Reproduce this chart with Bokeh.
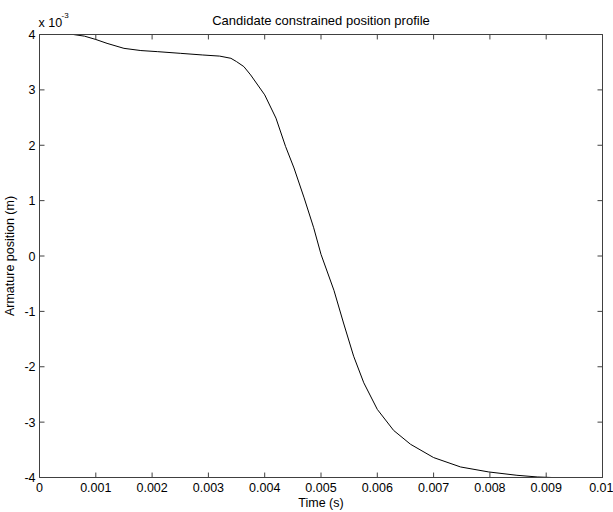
from bokeh.plotting import figure
from bokeh.models import LinearAxis, FixedTicker, CustomJSTickFormatter, Range1d, Label
from bokeh.embed import file_html
from bokeh.resources import INLINE

# Data (position in units of 1e-3 m)
time_s = [0.0, 0.0006, 0.0008, 0.001, 0.0012, 0.0015, 0.0018, 0.0021, 0.0025, 0.0029,
          0.0032, 0.0034, 0.0035, 0.00363, 0.00375, 0.0040, 0.0042, 0.00437, 0.00452,
          0.0047, 0.00487, 0.0050, 0.00523, 0.0054, 0.00558, 0.00576, 0.0060, 0.00629,
          0.00659, 0.0070, 0.00748, 0.00798, 0.00848, 0.00884, 0.0091, 0.01]
position = [4.0, 4.0, 3.97, 3.91, 3.84, 3.75, 3.71, 3.69, 3.66, 3.63,
            3.61, 3.57, 3.51, 3.42, 3.27, 2.91, 2.49, 1.98, 1.59,
            1.05, 0.51, 0.03, -0.62, -1.21, -1.81, -2.29, -2.77, -3.15,
            -3.40, -3.64, -3.81, -3.90, -3.96, -3.99, -4.0, -4.0]
x_ticks = [0, 0.001, 0.002, 0.003, 0.004, 0.005, 0.006, 0.007, 0.008, 0.009, 0.01]
y_ticks = [-4, -3, -2, -1, 0, 1, 2, 3, 4]
x_min, x_max = 0.0, 0.01
y_min, y_max = -4, 4

title_text = "Candidate constrained position profile"
x_label = "Time (s)"
y_label = "Armature position (m)"

FONT = "Liberation Sans"
AX = "#404040"
FS = "12.5px"
W, H = 613, 512
BL, BR, BT, BB = 39, 11, 32, 33

p = figure(width=W, height=H, x_range=Range1d(x_min, x_max), y_range=Range1d(y_min, y_max),
           output_backend="svg", toolbar_location=None, title=None,
           x_axis_location=None, y_axis_location=None)
p.min_border_left = BL
p.min_border_right = BR
p.min_border_top = BT
p.min_border_bottom = BB
p.xgrid.visible = False
p.ygrid.visible = False
p.outline_line_color = AX
p.outline_line_width = 1
p.background_fill_color = "white"
p.border_fill_color = "white"

fmt = CustomJSTickFormatter(code="return Number(tick.toFixed(4)).toString();")
blank = CustomJSTickFormatter(code="return '';")

def style(ax, labels=True):
    ax.axis_line_color = AX
    ax.major_tick_line_color = AX
    ax.major_tick_in = 0
    ax.major_tick_out = 0
    ax.minor_tick_line_color = None
    ax.major_label_text_font = FONT
    ax.major_label_text_font_size = FS if labels else "0px"
    ax.major_label_text_color = "black"
    ax.axis_label_text_font = FONT
    ax.axis_label_text_font_size = FS
    ax.axis_label_text_font_style = "normal"
    ax.axis_label_text_color = "black"

xb = LinearAxis(ticker=FixedTicker(ticks=x_ticks), formatter=fmt, axis_label=x_label)
style(xb)
xb.major_label_standoff = 5
xb.axis_label_standoff = 1
p.add_layout(xb, "below")

yl = LinearAxis(ticker=FixedTicker(ticks=y_ticks), formatter=fmt, axis_label=y_label)
style(yl)
yl.major_label_standoff = 4
yl.axis_label_standoff = 4
p.add_layout(yl, "left")

xt = LinearAxis(ticker=FixedTicker(ticks=x_ticks), formatter=blank)
style(xt, labels=False)
xt.major_label_standoff = 0
p.add_layout(xt, "above")

yr = LinearAxis(ticker=FixedTicker(ticks=y_ticks), formatter=blank)
style(yr, labels=False)
yr.major_label_standoff = 0
p.add_layout(yr, "right")

# inward tick marks on all four sides (MATLAB box style), 5 px long
TL = 5
dx = TL * (x_max - x_min) / (W - BL - BR)
dy = TL * (y_max - y_min) / (H - BT - BB)
nx, ny = len(x_ticks), len(y_ticks)
p.segment(x0=x_ticks, y0=[y_min] * nx, x1=x_ticks, y1=[y_min + dy] * nx,
          line_color=AX, line_width=1)
p.segment(x0=x_ticks, y0=[y_max] * nx, x1=x_ticks, y1=[y_max - dy] * nx,
          line_color=AX, line_width=1)
p.segment(x0=[x_min] * ny, y0=y_ticks, x1=[x_min + dx] * ny, y1=y_ticks,
          line_color=AX, line_width=1)
p.segment(x0=[x_max] * ny, y0=y_ticks, x1=[x_max - dx] * ny, y1=y_ticks,
          line_color=AX, line_width=1)

p.line(time_s, position, line_color="black", line_width=1)

p.add_layout(Label(x=(x_min + x_max) / 2, y=y_max, y_offset=14, text=title_text,
                   text_align="center", text_baseline="alphabetic", text_font=FONT,
                   text_font_size="13px", text_color="black"), "above")
p.add_layout(Label(x=x_min, y=y_max, x_offset=-1, y_offset=12, text="x 10",
                   text_align="left", text_baseline="alphabetic", text_font=FONT,
                   text_font_size="12.5px", text_color="black"), "above")
p.add_layout(Label(x=x_min, y=y_max, x_offset=22, y_offset=19, text="-3",
                   text_align="left", text_baseline="alphabetic", text_font=FONT,
                   text_font_size="8px", text_color="black"), "above")

open("out.html", "w").write(file_html(p, INLINE))
